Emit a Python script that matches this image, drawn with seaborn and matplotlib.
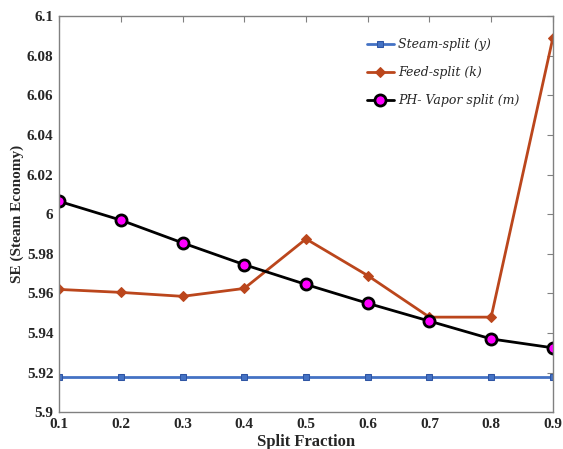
import matplotlib
matplotlib.use("Agg")
import matplotlib.pyplot as plt
import seaborn as sns
import pandas as pd

split = [0.1, 0.2, 0.3, 0.4, 0.5, 0.6, 0.7, 0.8, 0.9]
steam = [5.918, 5.918, 5.918, 5.918, 5.918, 5.918, 5.918, 5.918, 5.918]
feed = [5.962, 5.9605, 5.9585, 5.9625, 5.9875, 5.969, 5.948, 5.948, 6.089]
ph = [6.0065, 5.997, 5.9855, 5.9745, 5.9645, 5.955, 5.946, 5.937, 5.9325]
names = ["Steam-split (y)", "Feed-split (k)", "PH- Vapor split (m)"]
yticks = [5.9, 5.92, 5.94, 5.96, 5.98, 6.0, 6.02, 6.04, 6.06, 6.08, 6.1]
ytick_labels = ["5.9", "5.92", "5.94", "5.96", "5.98", "6", "6.02", "6.04", "6.06", "6.08", "6.1"]

sns.set_style("white")
fig = plt.figure(figsize=(5.63, 4.49), dpi=100)
ax = fig.add_axes([0.105, 0.082, 0.877, 0.882])

styles = [
    dict(color="#4472C4", marker="s", markersize=5, markerfacecolor="#4472C4", markeredgecolor="#2F55A4", lw=2),
    dict(color="#BB461C", marker="D", markersize=5.5, markerfacecolor="#BB461C", markeredgecolor="#BB461C", lw=2),
    dict(color="black", marker="o", markersize=8, markerfacecolor="#FF00FF", markeredgecolor="black", markeredgewidth=2, lw=2),
]
for name, vals, st in zip(names, [steam, feed, ph], styles):
    df = pd.DataFrame({"x": split, "y": vals})
    sns.lineplot(data=df, x="x", y="y", ax=ax, label=name, **st)

ax.set_xlim(0.1, 0.9)
ax.set_ylim(5.9, 6.1)
ax.set_xticks(split)
ax.set_xticklabels([f"{v:.1f}" for v in split])
ax.set_yticks(yticks)
ax.set_yticklabels(ytick_labels)
for s in ax.spines.values():
    s.set_color("#808080")
    s.set_linewidth(1)
ax.tick_params(direction="in", length=4, color="#808080", top=True, right=True,
               labelsize=11, pad=4)
for lab in ax.get_xticklabels() + ax.get_yticklabels():
    lab.set_fontfamily("Liberation Serif")
    lab.set_fontweight("bold")
ax.set_xlabel("Split Fraction", fontfamily="Liberation Serif", fontweight="bold", fontsize=12, labelpad=2)
ax.set_ylabel("SE (Steam Economy)", fontfamily="Liberation Serif", fontweight="bold", fontsize=11)
ax.yaxis.set_label_coords((24 - 59) / 494, 0.5)

leg = ax.legend(loc="upper left", bbox_to_anchor=(356 / 563, 1 - 27 / 449),
                bbox_transform=fig.transFigure, frameon=False,
                prop={"family": "DejaVu Serif", "style": "italic", "size": 9},
                handlelength=2.1, handletextpad=0.35, labelspacing=1.2)
fig.savefig("out.png", dpi=100)
